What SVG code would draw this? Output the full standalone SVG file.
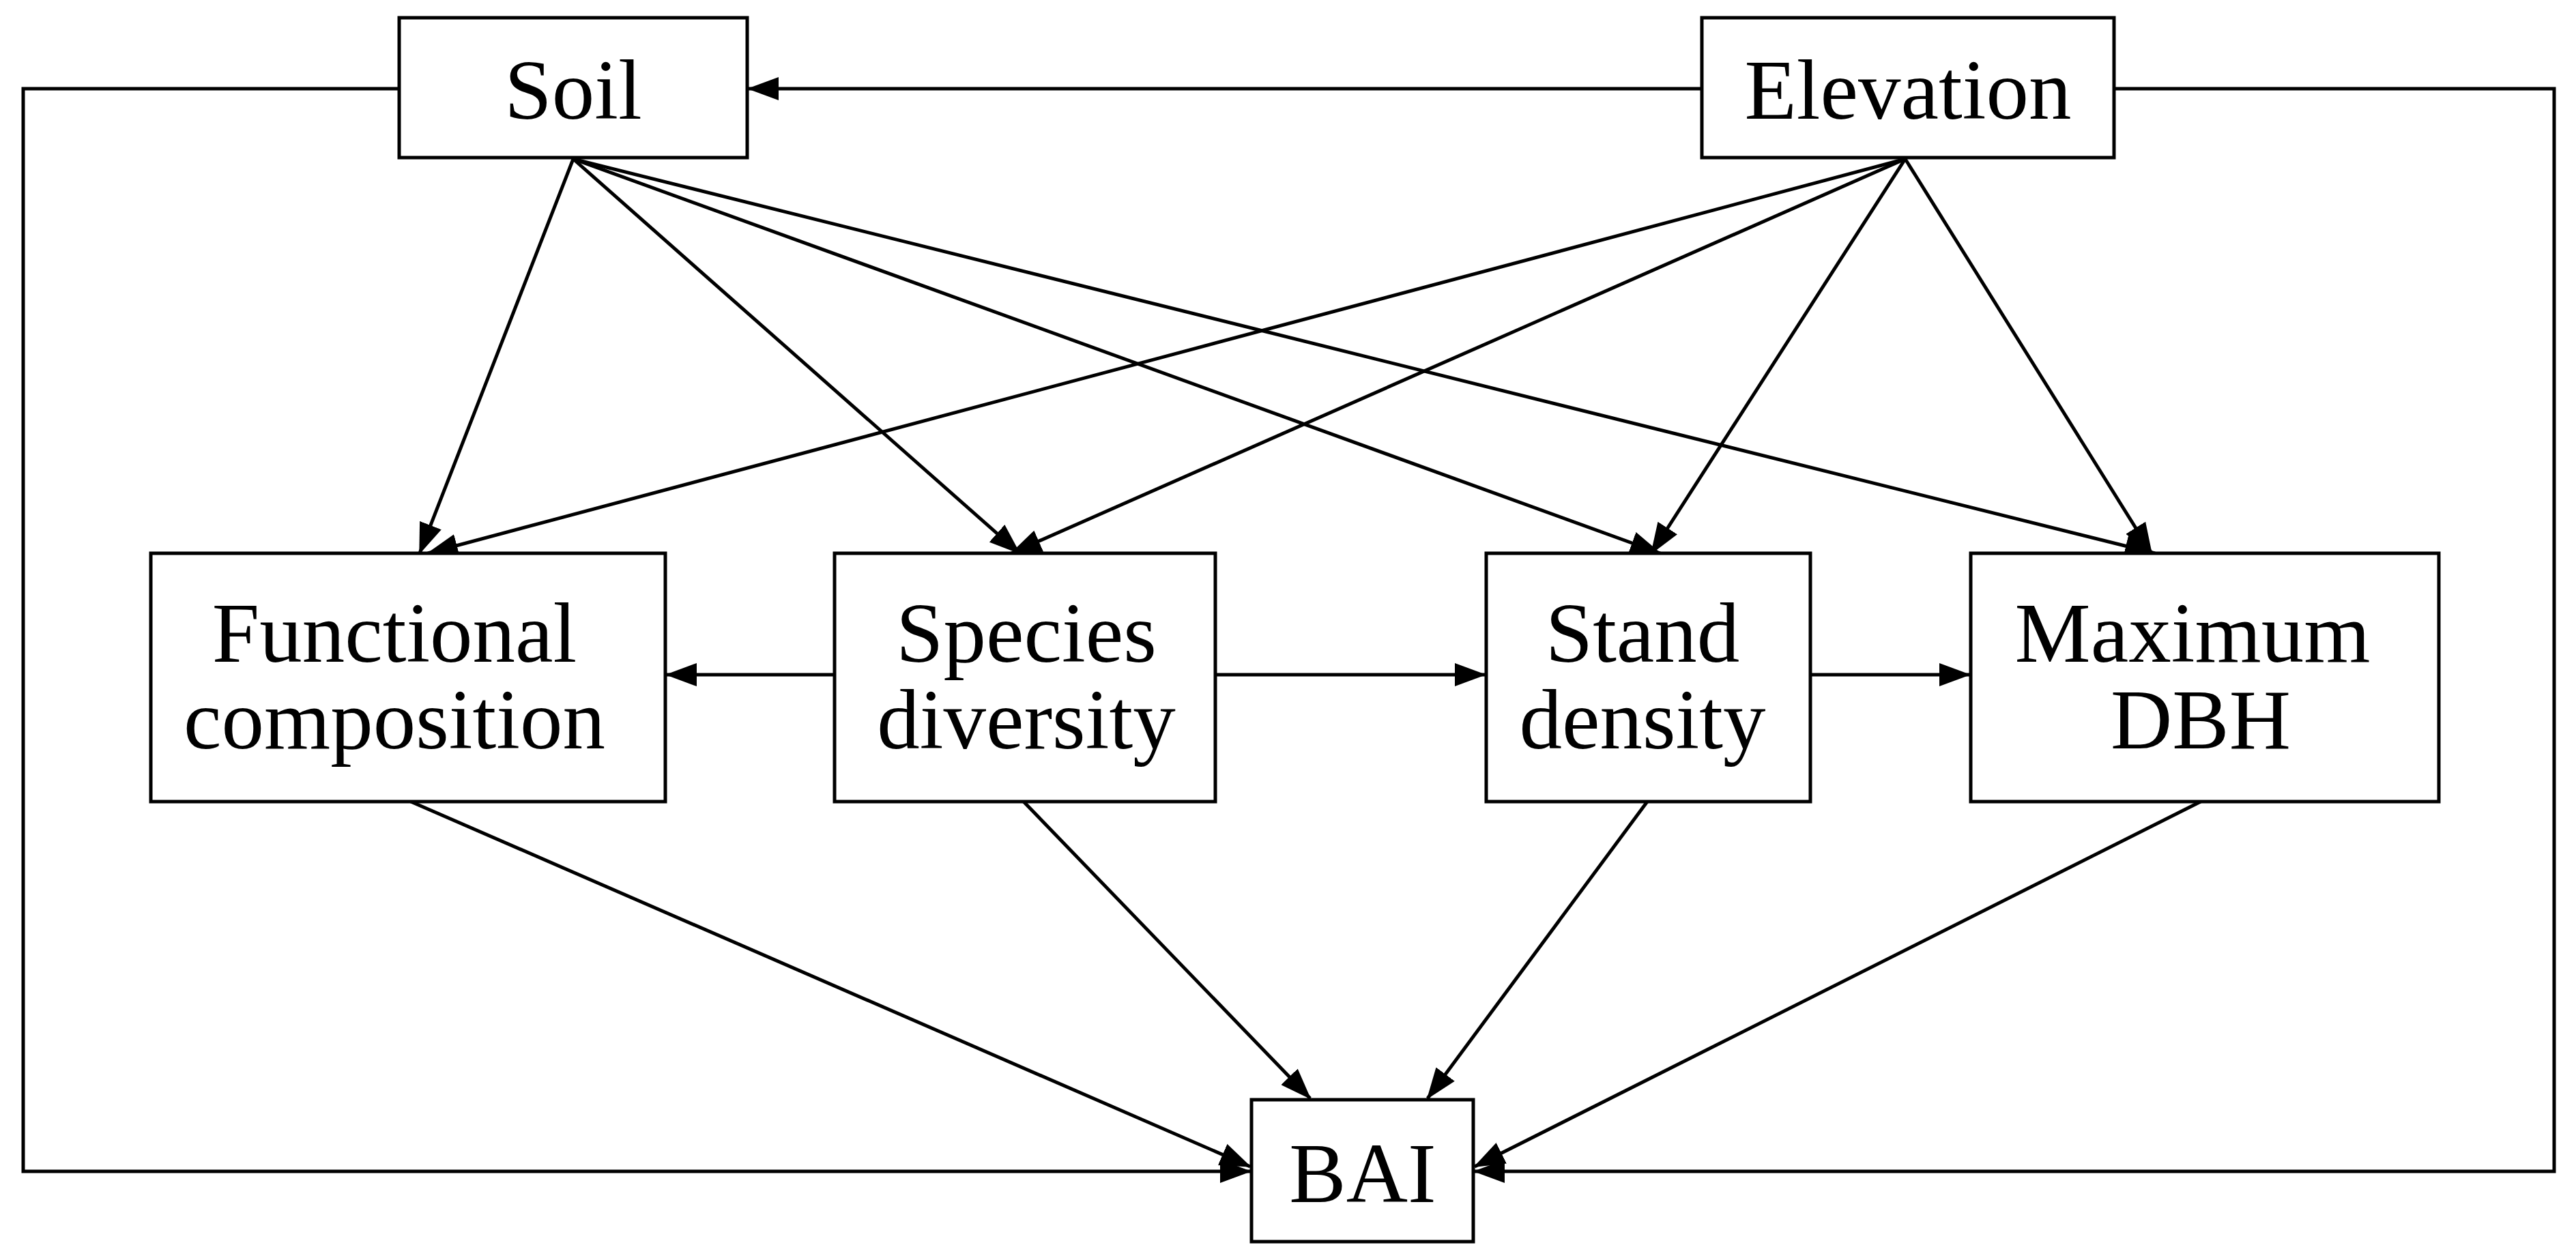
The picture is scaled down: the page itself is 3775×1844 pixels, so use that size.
<svg xmlns="http://www.w3.org/2000/svg" width="3775" height="1844" viewBox="0 0 3775 1844">
<style>
.box{fill:#fff;stroke:#000;stroke-width:5}
.t{font-family:"Liberation Serif",serif;font-size:125px;text-anchor:middle;fill:#000}
.c{stroke:#000;stroke-width:5;fill:none}
</style>
<defs>
<marker id="a" markerUnits="userSpaceOnUse" markerWidth="46" markerHeight="34" refX="44" refY="17" orient="auto"><path d="M0,0 L46,17 L0,34 z" fill="#000"/></marker>
</defs>
<rect width="3775" height="1844" fill="#fff"/>
<g id="connectors" class="c">
<polyline points="585,130 34,130 34,1717 1832,1717" marker-end="url(#a)"/>
<polyline points="3098,130 3743,130 3743,1717 2161,1717" marker-end="url(#a)"/>
<line x1="2494" y1="130" x2="1097" y2="130" marker-end="url(#a)"/>
<line x1="840" y1="233" x2="615" y2="811" marker-end="url(#a)"/>
<line x1="840" y1="233" x2="1494" y2="811" marker-end="url(#a)"/>
<line x1="840" y1="233" x2="2433" y2="811" marker-end="url(#a)"/>
<line x1="840" y1="233" x2="3158" y2="811" marker-end="url(#a)"/>
<line x1="2792" y1="233" x2="627" y2="811" marker-end="url(#a)"/>
<line x1="2792" y1="233" x2="1482" y2="811" marker-end="url(#a)"/>
<line x1="2792" y1="233" x2="2420" y2="811" marker-end="url(#a)"/>
<line x1="2792" y1="233" x2="3153" y2="811" marker-end="url(#a)"/>
<line x1="1223" y1="989" x2="977" y2="989" marker-end="url(#a)"/>
<line x1="1781" y1="989" x2="2176" y2="989" marker-end="url(#a)"/>
<line x1="2653" y1="989" x2="2886" y2="989" marker-end="url(#a)"/>
<line x1="602" y1="1175" x2="1832" y2="1710" marker-end="url(#a)"/>
<line x1="1500" y1="1175" x2="1920" y2="1610" marker-end="url(#a)"/>
<line x1="2414" y1="1175" x2="2092" y2="1610" marker-end="url(#a)"/>
<line x1="3225" y1="1175" x2="2161" y2="1710" marker-end="url(#a)"/>
</g>
<g id="soil"><rect class="box" x="585" y="26" width="510" height="205"/><text class="t" x="840" y="174">Soil</text></g>
<g id="elevation"><rect class="box" x="2494" y="26" width="604" height="205"/><text class="t" x="2796" y="174">Elevation</text></g>
<g id="functional"><rect class="box" x="221" y="811" width="754" height="364"/><text class="t" x="578" y="970">Functional</text><text class="t" x="578" y="1097">composition</text></g>
<g id="species"><rect class="box" x="1223" y="811" width="558" height="364"/><text class="t" x="1504" y="970">Species</text><text class="t" x="1504" y="1097">diversity</text></g>
<g id="stand"><rect class="box" x="2178" y="811" width="475" height="364"/><text class="t" x="2407" y="970">Stand</text><text class="t" x="2407" y="1097">density</text></g>
<g id="maxdbh"><rect class="box" x="2888" y="811" width="686" height="364"/><text class="t" x="3213" y="970">Maximum</text><text class="t" x="3225" y="1097">DBH</text></g>
<g id="bai"><rect class="box" x="1834" y="1612" width="325" height="208"/><text class="t" x="1997" y="1762">BAI</text></g>
</svg>
